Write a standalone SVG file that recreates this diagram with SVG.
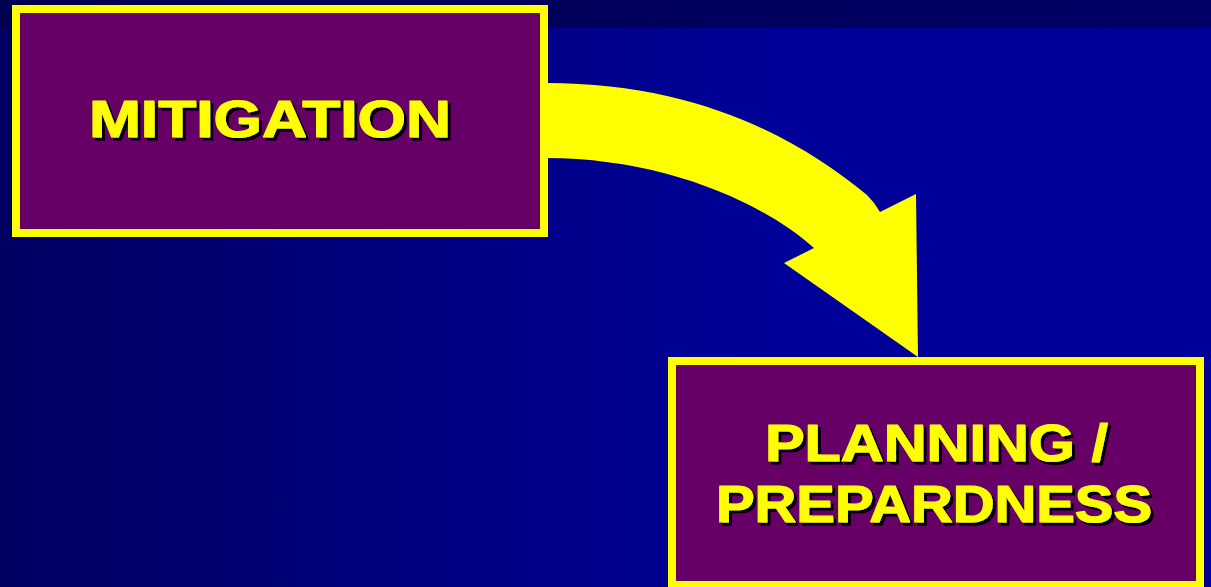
<svg xmlns="http://www.w3.org/2000/svg" width="1211" height="587" viewBox="0 0 1211 587">
  <defs>
    <linearGradient id="bg" gradientUnits="userSpaceOnUse" x1="0" y1="0" x2="780" y2="0">
      <stop offset="0" stop-color="#000062"/>
      <stop offset="1" stop-color="#000099"/>
    </linearGradient>
    <linearGradient id="strip" gradientUnits="userSpaceOnUse" x1="0" y1="0" x2="1211" y2="0">
      <stop offset="0" stop-color="#000052"/>
      <stop offset="1" stop-color="#000066"/>
    </linearGradient>
    <filter id="shadow" x="-5%" y="-20%" width="115%" height="150%">
      <feOffset in="SourceAlpha" dx="2.5" dy="2.5" result="off"/>
      <feFlood flood-color="#000000"/>
      <feComposite in2="off" operator="in" result="sh"/>
      <feMerge>
        <feMergeNode in="sh"/>
        <feMergeNode in="SourceGraphic"/>
      </feMerge>
    </filter>
  </defs>
  <style>
    .box { fill: #660066; stroke: #ffff00; stroke-width: 8; }
    .lbl { font-family: "Liberation Sans", Arial, sans-serif; font-weight: bold; font-size: 51px;
           fill: #ffff00; stroke: #ffff00; stroke-width: 1.2; stroke-linejoin: round; filter: url(#shadow); }
    .arrow { fill: #ffff00; }
  </style>

  <rect x="0" y="0" width="1211" height="587" fill="url(#bg)"/>
  <rect x="0" y="0" width="1211" height="28" fill="url(#strip)"/>

  <g id="connectors">
    <path class="arrow" d="M 546,83 C 700,83 800,140 867,195 Q 875,203 880,212 L 916,194 L 918,357 L 784,263 L 814,248 C 760,200 660,158 546,158 Z"/>
  </g>

  <g id="mitigation">
    <rect class="box" x="16" y="9" width="528" height="224"/>
    <text class="lbl" x="89" y="137" textLength="362" lengthAdjust="spacingAndGlyphs">MITIGATION</text>
  </g>

  <g id="planning">
    <rect class="box" x="672" y="361" width="528" height="224"/>
    <text class="lbl" x="765" y="461" textLength="343" lengthAdjust="spacingAndGlyphs">PLANNING /</text>
    <text class="lbl" x="716" y="522" textLength="436" lengthAdjust="spacingAndGlyphs">PREPARDNESS</text>
  </g>
</svg>
